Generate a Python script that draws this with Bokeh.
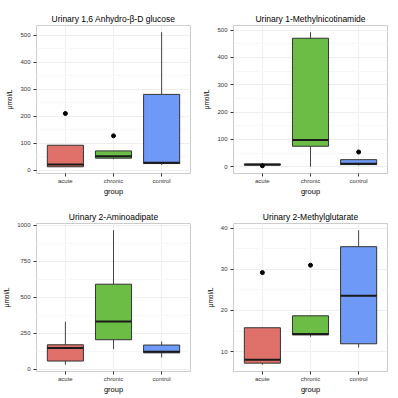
from bokeh.plotting import figure
from bokeh.layouts import gridplot
from bokeh.models import FactorRange, Range1d, FixedTicker, ColumnDataSource
from bokeh.transform import dodge
from bokeh.embed import file_html
from bokeh.resources import INLINE

groups = ["acute", "chronic", "control"]
colors = ["#E0716A", "#6BBD45", "#6E99F6"]

# Panel 1: Urinary 1,6 Anhydro-beta-D glucose
t1 = "Urinary 1,6 Anhydro-\u03b2-D glucose"
lo1 = [12, 40, 19]
q1_1 = [12, 44, 24]
med1 = [20, 51, 27]
q3_1 = [92, 71, 281]
hi1 = [92, 71, 512]
og1 = ["acute", "chronic"]
ov1 = [210, 127]
tk1 = [0, 100, 200, 300, 400, 500]
mt1 = [50, 150, 250, 350, 450]

# Panel 2: Urinary 1-Methylnicotinamide
t2 = "Urinary 1-Methylnicotinamide"
lo2 = [6, 0, 5]
q1_2 = [6, 75, 8]
med2 = [8, 98, 11]
q3_2 = [9.6, 470, 26]
hi2 = [9.6, 492, 26]
og2 = ["acute", "control"]
ov2 = [3.6, 54]
tk2 = [0, 100, 200, 300, 400, 500]
mt2 = [50, 150, 250, 350, 450]

# Panel 3: Urinary 2-Aminoadipate
t3 = "Urinary 2-Aminoadipate"
lo3 = [30, 139, 81]
q1_3 = [56, 204, 113]
med3 = [146, 331, 120]
q3_3 = [169, 590, 167]
hi3 = [329, 965, 192]
og3 = []
ov3 = []
tk3 = [0, 250, 500, 750, 1000]
mt3 = [125, 375, 625, 875]

# Panel 4: Urinary 2-Methylglutarate
t4 = "Urinary 2-Methylglutarate"
lo4 = [6.8, 13.6, 11.0]
q1_4 = [7.2, 14.05, 11.9]
med4 = [8.05, 14.3, 23.6]
q3_4 = [15.8, 18.7, 35.5]
hi4 = [15.8, 18.7, 39.5]
og4 = ["acute", "chronic"]
ov4 = [29.2, 31.0]
tk4 = [10, 20, 30, 40]
mt4 = [15, 25, 35]

FONT = "Liberation Sans"


def panel(title, lo, q1, med, q3, hi, og, ov, tk, mt, left):
    ymin = min(lo + ov)
    ymax = max(hi + ov)
    pad = 0.05 * (ymax - ymin)
    p = figure(
        x_range=FactorRange(factors=groups, range_padding=0.2 / 3),
        y_range=Range1d(ymin - pad, ymax + pad),
        frame_width=154, frame_height=148,
        output_backend="svg", toolbar_location=None,
        min_border_left=left, min_border_right=10,
        min_border_top=25, min_border_bottom=18,
    )
    p.title.text = title
    p.title.align = "center"
    p.title.text_font = FONT
    p.title.text_font_size = "8.5px"
    p.title.text_font_style = "normal"
    p.title.text_color = "#000000"
    p.title.standoff = 3

    p.outline_line_color = "#cccccc"
    p.outline_line_width = 1
    p.background_fill_color = "white"
    p.border_fill_color = "white"

    p.xgrid.grid_line_color = "#efefef"
    p.ygrid.grid_line_color = "#efefef"
    p.ygrid.minor_grid_line_color = "#f7f7f7"
    p.yaxis.ticker = FixedTicker(ticks=tk, minor_ticks=mt)

    for ax in (p.xaxis[0], p.yaxis[0]):
        ax.axis_line_color = None
        ax.major_tick_line_color = "#333333"
        ax.major_tick_out = 3
        ax.major_tick_in = 0
        ax.minor_tick_line_color = None
        ax.major_label_text_font = FONT
        ax.major_label_text_font_size = "6px"
        ax.major_label_text_color = "#333333"
        ax.axis_label_text_font = FONT
        ax.axis_label_text_font_style = "normal"
        ax.axis_label_text_color = "#000000"
    p.xaxis.major_label_standoff = 1
    p.yaxis.major_label_standoff = 2
    p.xaxis.axis_label = "group"
    p.xaxis.axis_label_text_font_size = "7.5px"
    p.xaxis.axis_label_standoff = 0
    p.yaxis.axis_label = "\u03bcmol/L"
    p.yaxis.axis_label_text_font_size = "6.5px"
    p.yaxis.axis_label_standoff = 4

    src = ColumnDataSource(dict(g=groups, lo=lo, q1=q1, med=med, q3=q3, hi=hi, c=colors))
    p.segment(x0="g", y0="q3", x1="g", y1="hi", source=src, line_color="#444444", line_width=1)
    p.segment(x0="g", y0="lo", x1="g", y1="q1", source=src, line_color="#444444", line_width=1)
    p.vbar(x="g", bottom="q1", top="q3", width=0.75, source=src,
           fill_color="c", line_color="#333333", line_width=1)
    p.segment(x0=dodge("g", -0.375, range=p.x_range), y0="med",
              x1=dodge("g", 0.375, range=p.x_range), y1="med",
              source=src, line_color="#1a1a1a", line_width=2)
    if og:
        p.scatter(x=og, y=ov, size=4, color="black")
    return p


p1 = panel(t1, lo1, q1_1, med1, q3_1, hi1, og1, ov1, tk1, mt1, 27)
p2 = panel(t2, lo2, q1_2, med2, q3_2, hi2, og2, ov2, tk2, mt2, 32)
p3 = panel(t3, lo3, q1_3, med3, q3_3, hi3, og3, ov3, tk3, mt3, 27)
p4 = panel(t4, lo4, q1_4, med4, q3_4, hi4, og4, ov4, tk4, mt4, 32)

grid = gridplot([[p1, p2], [p3, p4]], toolbar_location=None)
open("out.html", "w").write(file_html(grid, INLINE))
